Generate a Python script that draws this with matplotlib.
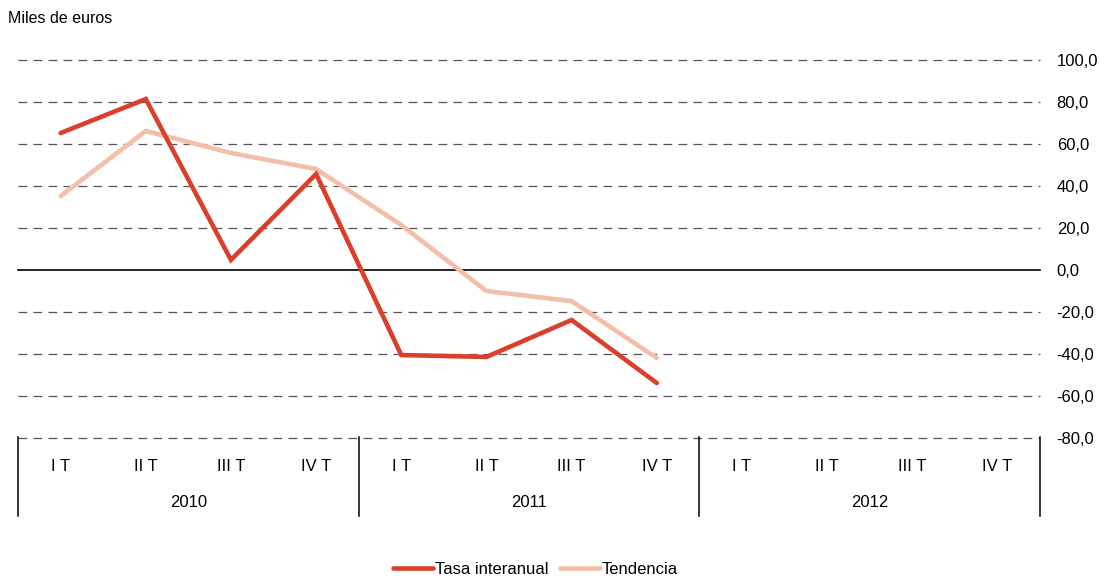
import matplotlib.pyplot as plt
import matplotlib.transforms as mtransforms
from matplotlib.ticker import FuncFormatter

plt.rcParams['font.family'] = ['Liberation Sans', 'DejaVu Sans']

anios = ['2010', '2011', '2012']
trimestres = ['I T', 'II T', 'III T', 'IV T']
tasa_interanual = [65.2, 81.4, 4.8, 45.7, -40.5, -41.4, -23.8, -53.8]
tendencia = [35.2, 66.2, 55.7, 48.1, 21.4, -10.0, -14.8, -41.9]

rojo = '#d9402b'
rosa = '#f4bfa9'

fig = plt.figure(figsize=(11.06, 5.8), dpi=100)
ax = fig.add_axes([0.0163, 0.2448, 0.9240, 0.6518])

n = len(anios) * len(trimestres)
xs = [i + 0.5 for i in range(len(tasa_interanual))]
ax.plot(xs, tasa_interanual, color=rojo, lw=3.3, solid_capstyle='round',
        solid_joinstyle='miter', label='Tasa interanual', zorder=3)
ax.plot(xs, tendencia, color=rosa, lw=3.3, solid_capstyle='round',
        solid_joinstyle='miter', label='Tendencia', zorder=2)

ax.set_xlim(0, n)
ax.set_ylim(-80, 100)
ax.set_yticks(range(-80, 101, 20))
ax.yaxis.tick_right()
ax.yaxis.set_major_formatter(FuncFormatter(lambda v, p: f"{v:.1f}".replace('.', ',')))
ax.tick_params(axis='y', length=0, pad=12, labelsize=12)
ax.set_xticks([])
for s in ax.spines.values():
    s.set_visible(False)

for v in range(-80, 101, 20):
    if v == 0:
        ax.axhline(0, color='black', lw=1.2, zorder=1, clip_on=False)
    else:
        ax.axhline(v, color='#555555', lw=0.9, dashes=(7, 5), zorder=1, clip_on=False)

# etiquetas del eje de categorias
trans = mtransforms.blended_transform_factory(ax.transData, ax.transAxes)
for i in range(n):
    ax.text(i + 0.5, -0.075, trimestres[i % 4], transform=trans,
            ha='center', va='center', fontsize=12)
for j, a in enumerate(anios):
    ax.text(j * 4 + 2, -0.17, a, transform=trans, ha='center', va='center', fontsize=12)
for j in range(len(anios) + 1):
    ax.plot([j * 4, j * 4], [0.002, -0.205], transform=trans, color='black',
            lw=1.1, clip_on=False)

fig.text(0.007, 0.968, 'Miles de euros', fontsize=11.5, ha='left', va='center')

fig.legend(loc='center', bbox_to_anchor=(0.484, 0.018), ncol=2, frameon=False,
           fontsize=12, handlelength=2.4, handletextpad=0.1, columnspacing=0.7)

fig.savefig('out.png', dpi=100)
